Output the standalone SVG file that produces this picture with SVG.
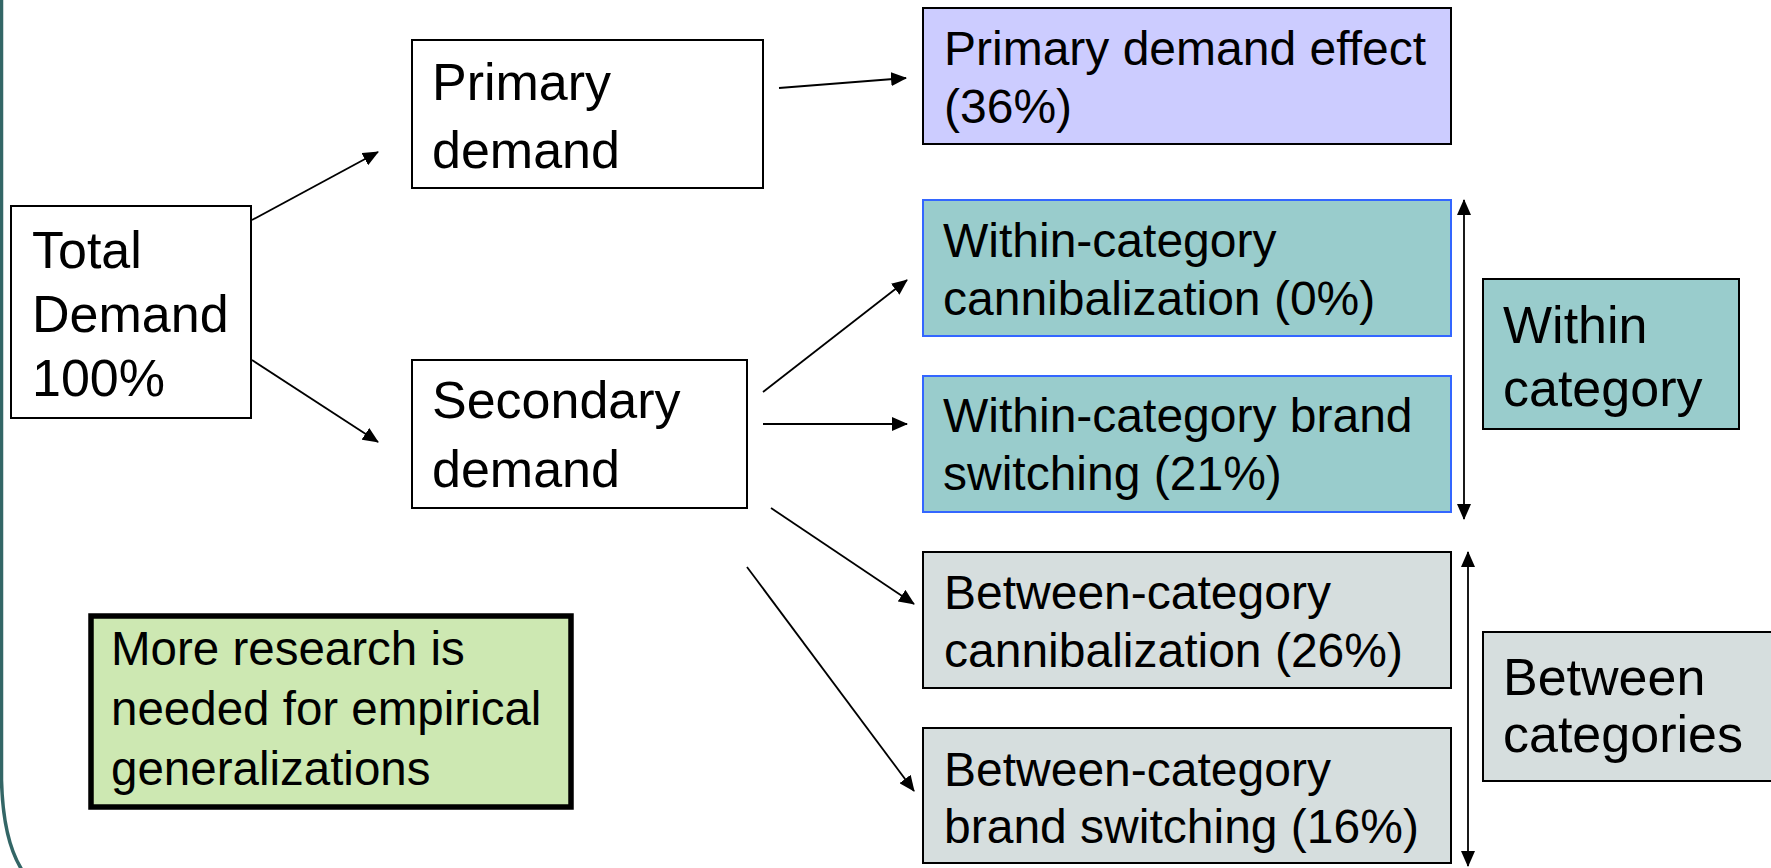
<svg xmlns="http://www.w3.org/2000/svg" width="1771" height="868" viewBox="0 0 1771 868">
<style>
.box{stroke:#000;stroke-width:2}
.white{fill:#fff}
.purple{fill:#CCCCFF}
.teal{fill:#99CCCC}
.tealb{fill:#99CCCC;stroke:#3366FF;stroke-width:2}
.grey{fill:#D6DEDE}
.t{font-family:"Liberation Sans",Arial,sans-serif;fill:#000}
.big{font-size:52px}
.mid{font-size:48px}
.note{font-size:47.5px}
.conn line{stroke:#000;stroke-width:1.8}
</style>
<defs>
<marker id="ah" markerUnits="userSpaceOnUse" markerWidth="16" markerHeight="14" refX="15" refY="7" orient="auto-start-reverse">
<path d="M0,0 L16,7 L0,14 z" fill="#000"/>
</marker>
</defs>
<rect width="1771" height="868" fill="#fff"/>
<path d="M1.5,0 L1.5,780 Q3,840 22,870" fill="none" stroke="#336666" stroke-width="3.5"/>

<g id="total">
<rect class="box white" x="11" y="206" width="240" height="212"/>
<text class="t big" x="32" y="268">Total</text>
<text class="t big" x="32" y="332">Demand</text>
<text class="t big" x="32" y="396">100%</text>
</g>
<g id="primary">
<rect class="box white" x="412" y="40" width="351" height="148"/>
<text class="t big" x="432" y="100">Primary</text>
<text class="t big" x="432" y="168">demand</text>
</g>
<g id="secondary">
<rect class="box white" x="412" y="360" width="335" height="148"/>
<text class="t big" x="432" y="418">Secondary</text>
<text class="t big" x="432" y="487">demand</text>
</g>
<g id="primary-effect">
<rect class="box purple" x="923" y="8" width="528" height="136"/>
<text class="t mid" x="944" y="65">Primary demand effect</text>
<text class="t mid" x="944" y="123">(36%)</text>
</g>
<g id="within-cannibalization">
<rect class="tealb" x="923" y="200" width="528" height="136"/>
<text class="t mid" x="943" y="257">Within-category</text>
<text class="t mid" x="943" y="315">cannibalization (0%)</text>
</g>
<g id="within-switching">
<rect class="tealb" x="923" y="376" width="528" height="136"/>
<text class="t mid" x="943" y="432">Within-category brand</text>
<text class="t mid" x="943" y="490">switching (21%)</text>
</g>
<g id="between-cannibalization">
<rect class="box grey" x="923" y="552" width="528" height="136"/>
<text class="t mid" x="944" y="609">Between-category</text>
<text class="t mid" x="944" y="667">cannibalization (26%)</text>
</g>
<g id="between-switching">
<rect class="box grey" x="923" y="728" width="528" height="135"/>
<text class="t mid" x="944" y="786">Between-category</text>
<text class="t mid" x="944" y="843">brand switching (16%)</text>
</g>
<g id="within-label">
<rect class="box teal" x="1483" y="279" width="256" height="150"/>
<text class="t big" x="1503" y="343">Within</text>
<text class="t big" x="1503" y="406">category</text>
</g>
<g id="between-label">
<rect class="box grey" x="1483" y="632" width="290" height="149"/>
<text class="t big" x="1503" y="695">Between</text>
<text class="t big" x="1503" y="752">categories</text>
</g>
<g id="note">
<rect x="91" y="616" width="480" height="191" fill="#CDE8B2" stroke="#000" stroke-width="5.5"/>
<text class="t note" x="111" y="665">More research is</text>
<text class="t note" x="111" y="725">needed for empirical</text>
<text class="t note" x="111" y="785">generalizations</text>
</g>

<g id="connectors" class="conn">
<line x1="252" y1="220" x2="378" y2="152" marker-end="url(#ah)"/>
<line x1="252" y1="360" x2="378" y2="442" marker-end="url(#ah)"/>
<line x1="779" y1="88" x2="906" y2="78" marker-end="url(#ah)"/>
<line x1="763" y1="392" x2="907" y2="280" marker-end="url(#ah)"/>
<line x1="763" y1="424" x2="907" y2="424" marker-end="url(#ah)"/>
<line x1="771" y1="508" x2="914" y2="604" marker-end="url(#ah)"/>
<line x1="747" y1="567" x2="914" y2="791" marker-end="url(#ah)"/>
<line x1="1464" y1="200" x2="1464" y2="519" marker-start="url(#ah)" marker-end="url(#ah)"/>
<line x1="1468" y1="552" x2="1468" y2="866" marker-start="url(#ah)" marker-end="url(#ah)"/>
</g>
</svg>
